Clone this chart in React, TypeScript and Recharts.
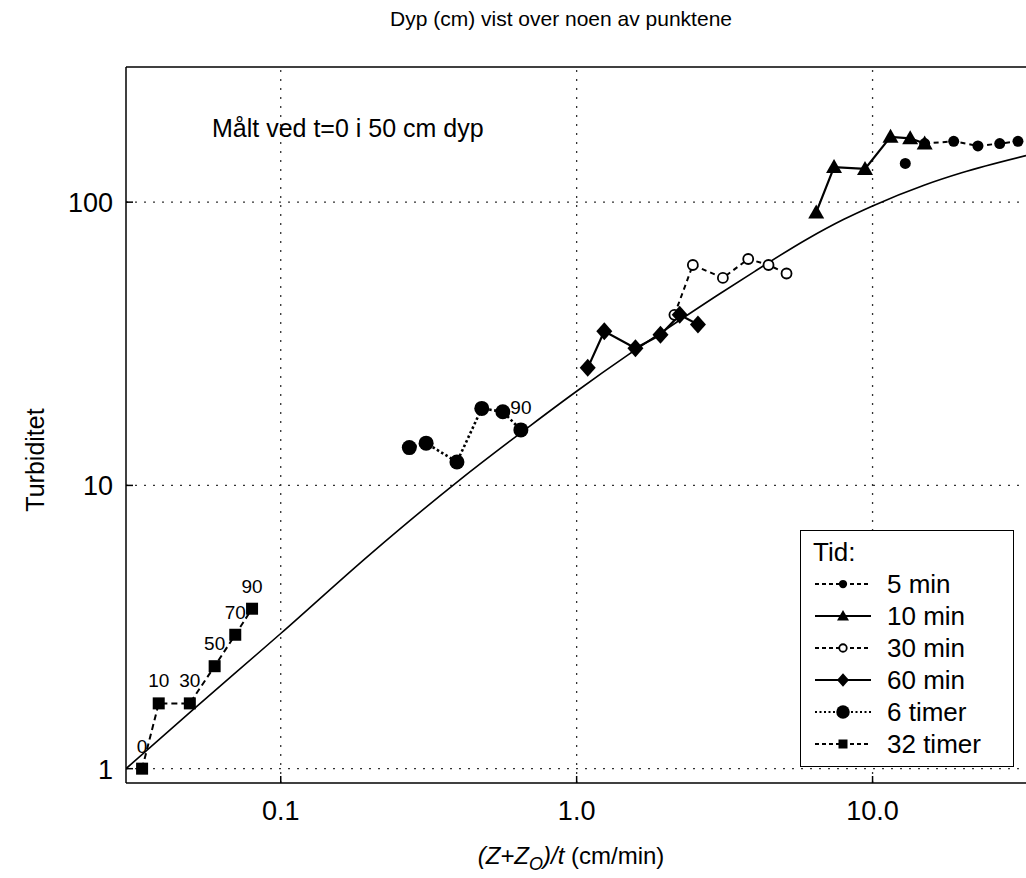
import { ComposedChart, Line, Scatter, XAxis, YAxis, ReferenceLine, Legend } from 'recharts';

const FONT = "'Liberation Sans', Arial, Helvetica, sans-serif";

// fitted curve
const CURVE_X = [0.03, 0.05, 0.1, 0.2, 0.4, 0.7, 1, 1.5, 2, 3, 4, 6, 8, 10, 15, 20, 33];
const CURVE_Y = [1.0, 1.6, 3.0, 5.7, 10.4, 16.3, 21.5, 29, 35.5, 47, 57, 74, 87, 97, 115, 127, 146];

const MIN5_X = [12.9, 15.0, 18.8, 22.7, 26.9, 31.0];
const MIN5_Y = [137, 161, 164, 158, 161, 164];

const MIN10_X = [6.45, 7.41, 9.43, 11.5, 13.4, 15.0];
const MIN10_Y = [92, 133, 131, 170, 168, 161];

const MIN30_X = [2.14, 2.47, 3.12, 3.8, 4.45, 5.12];
const MIN30_Y = [40, 60, 54, 63, 60, 56];

const MIN60_X = [1.09, 1.24, 1.58, 1.92, 2.23, 2.57];
const MIN60_Y = [26, 35, 30.5, 34, 40, 37];

const H6_X = [0.272, 0.31, 0.394, 0.478, 0.563, 0.648];
const H6_Y = [13.6, 14.1, 12.1, 18.7, 18.2, 15.7];
const H6_DEPTH = ['', '', '', '', '', '90'];

const H32_X = [0.034, 0.0387, 0.0493, 0.0598, 0.0702, 0.08];
const H32_Y = [1.0, 1.7, 1.7, 2.3, 2.97, 3.67];
const H32_DEPTH = ['0', '10', '30', '50', '70', '90'];

const X_TICKS = [0.1, 1, 10];
const X_TICK_LABELS = ['0.1', '1.0', '10.0'];
const Y_TICKS = [1, 10, 100];
const Y_TICK_LABELS = ['1', '10', '100'];

const pts = (xs: number[], ys: number[], lbl?: string[]) =>
  xs.map((x, i) => ({ x, y: ys[i], lbl: lbl ? lbl[i] : '' }));

const curveData = pts(CURVE_X, CURVE_Y);

type Kind = 'dot' | 'tri' | 'ring' | 'diamond' | 'bigdot' | 'square';

const Mark = ({ kind, cx, cy, s = 1 }: { kind: Kind; cx: number; cy: number; s?: number }) => {
  switch (kind) {
    case 'dot':
      return <circle cx={cx} cy={cy} r={5.5 * s} fill="#000" />;
    case 'bigdot':
      return <circle cx={cx} cy={cy} r={7.5 * s} fill="#000" />;
    case 'ring':
      return <circle cx={cx} cy={cy} r={5 * s} fill="#fff" stroke="#000" strokeWidth={1.8} />;
    case 'tri':
      return (
        <polygon
          points={`${cx},${cy - 8 * s} ${cx - 8 * s},${cy + 6 * s} ${cx + 8 * s},${cy + 6 * s}`}
          fill="#000"
        />
      );
    case 'diamond':
      return (
        <polygon
          points={`${cx},${cy - 9 * s} ${cx + 8 * s},${cy} ${cx},${cy + 9 * s} ${cx - 8 * s},${cy}`}
          fill="#000"
        />
      );
    case 'square':
      return <rect x={cx - 6 * s} y={cy - 6 * s} width={12 * s} height={12 * s} fill="#000" />;
  }
  return null;
};

const shapeOf = (kind: Kind) => (p: any) => (
  <g>
    <Mark kind={kind} cx={p.cx} cy={p.cy} />
    {p.payload && p.payload.lbl ? (
      <text x={p.cx} y={p.cy - 16} textAnchor="middle" fontSize={19} fontFamily={FONT} fill="#000">
        {p.payload.lbl}
      </text>
    ) : null}
  </g>
);

// the first 5 min point stands alone in the original, so its line skips it
const SERIES: { name: string; kind: Kind; dash?: string; width: number; data: any[]; lineFrom: number }[] = [
  { name: '5 min', kind: 'dot', dash: '5 4', width: 2, data: pts(MIN5_X, MIN5_Y), lineFrom: 1 },
  { name: '10 min', kind: 'tri', width: 2.2, data: pts(MIN10_X, MIN10_Y), lineFrom: 0 },
  { name: '30 min', kind: 'ring', dash: '5 4', width: 2, data: pts(MIN30_X, MIN30_Y), lineFrom: 0 },
  { name: '60 min', kind: 'diamond', width: 2.2, data: pts(MIN60_X, MIN60_Y), lineFrom: 0 },
  { name: '6 timer', kind: 'bigdot', dash: '2.5 2.5', width: 2.6, data: pts(H6_X, H6_Y, H6_DEPTH), lineFrom: 0 },
  { name: '32 timer', kind: 'square', dash: '6 4', width: 2, data: pts(H32_X, H32_Y, H32_DEPTH), lineFrom: 0 },
];

const XTick = (p: any) => {
  const i = X_TICKS.indexOf(p.payload.value);
  return (
    <g>
      <line x1={p.x} x2={p.x} y1={p.y} y2={p.y - 7} stroke="#000" strokeWidth={1.5} />
      <text x={p.x} y={p.y + 37} textAnchor="middle" fontSize={27} fontFamily={FONT} fill="#000">
        {X_TICK_LABELS[i]}
      </text>
    </g>
  );
};

const YTick = (p: any) => {
  const i = Y_TICKS.indexOf(p.payload.value);
  return (
    <g>
      <line x1={p.x} x2={p.x + 7} y1={p.y} y2={p.y} stroke="#000" strokeWidth={1.5} />
      <text x={p.x - 13} y={p.y + 10} textAnchor="end" fontSize={27} fontFamily={FONT} fill="#000">
        {Y_TICK_LABELS[i]}
      </text>
    </g>
  );
};

const LegendBox = () => (
  <div
    style={{
      border: '1.5px solid #000',
      background: '#fff',
      width: 214,
      padding: '5px 0 6px 12px',
      fontFamily: FONT,
      fontSize: 26,
      color: '#000',
      boxSizing: 'border-box',
    }}
  >
    <div style={{ height: 32, lineHeight: '32px' }}>Tid:</div>
    {SERIES.map(s => (
      <div key={s.name} style={{ display: 'flex', alignItems: 'center', height: 32 }}>
        <svg width={60} height={22} style={{ marginRight: 14 }}>
          <line
            x1={2}
            x2={58}
            y1={11}
            y2={11}
            stroke="#000"
            strokeWidth={2}
            strokeDasharray={s.dash ? (s.kind === 'bigdot' ? '2 2.5' : '4 3') : undefined}
          />
          <Mark kind={s.kind} cx={30} cy={11} s={s.kind === 'bigdot' ? 0.9 : 0.75} />
        </svg>
        <span>{s.name}</span>
      </div>
    ))}
  </div>
);

const GRID = { stroke: '#333', strokeDasharray: '2 7', strokeWidth: 1.3 };

export default function App() {
  return (
    <div
      style={{
        position: 'absolute',
        left: 0,
        top: 0,
        width: 1026,
        height: 878,
        background: '#fff',
        fontFamily: FONT,
        color: '#000',
      }}
    >
      <ComposedChart width={1026} height={878} margin={{ top: 67, right: 0, bottom: 0, left: 0 }}>
        <XAxis
          dataKey="x"
          type="number"
          scale="log"
          domain={[0.03, 33]}
          allowDataOverflow
          ticks={X_TICKS}
          tick={<XTick />}
          tickSize={0}
          tickMargin={0}
          height={95}
          axisLine={{ stroke: '#000', strokeWidth: 1.5 }}
          tickLine={false}
        />
        <YAxis
          dataKey="y"
          type="number"
          scale="log"
          domain={[0.89, 300]}
          allowDataOverflow
          ticks={Y_TICKS}
          tick={<YTick />}
          tickSize={0}
          tickMargin={0}
          width={126}
          axisLine={{ stroke: '#000', strokeWidth: 1.5 }}
          tickLine={false}
        />
        {X_TICKS.map(v => (
          <ReferenceLine key={'gx' + v} x={v} {...GRID} />
        ))}
        {Y_TICKS.map(v => (
          <ReferenceLine key={'gy' + v} y={v} {...GRID} />
        ))}
        <ReferenceLine y={300} stroke="#000" strokeWidth={1.5} />
        <Line
          data={curveData}
          dataKey="y"
          type="monotone"
          stroke="#000"
          strokeWidth={1.6}
          dot={false}
          activeDot={false}
          isAnimationActive={false}
        />
        {SERIES.map(s => (
          <Scatter
            key={s.name + '-line'}
            data={s.data.slice(s.lineFrom)}
            dataKey="y"
            line={{ stroke: '#000', strokeWidth: s.width, strokeDasharray: s.dash }}
            lineType="joint"
            shape={() => <g />}
            isAnimationActive={false}
          />
        ))}
        {SERIES.map(s => (
          <Scatter
            key={s.name}
            name={s.name}
            data={s.data}
            dataKey="y"
            shape={shapeOf(s.kind)}
            isAnimationActive={false}
          />
        ))}
        <Legend
          layout="horizontal"
          verticalAlign="middle"
          align="center"
          content={<LegendBox />}
          wrapperStyle={{ position: 'absolute', left: 800, top: 530, width: 214, height: 'auto' }}
        />
      </ComposedChart>

      <div
        style={{ position: 'absolute', left: 361, top: 7, width: 400, textAlign: 'center', fontSize: 21 }}
      >
        Dyp (cm) vist over noen av punktene
      </div>
      <div style={{ position: 'absolute', left: 212, top: 114, fontSize: 25, whiteSpace: 'nowrap' }}>
        Målt ved t=0 i 50 cm dyp
      </div>
      <div
        style={{
          position: 'absolute',
          left: 35,
          top: 460,
          transform: 'translate(-50%, -50%) rotate(-90deg)',
          fontSize: 25,
          whiteSpace: 'nowrap',
        }}
      >
        Turbiditet
      </div>
      <div
        style={{
          position: 'absolute',
          left: 571,
          top: 858,
          transform: 'translate(-50%, -50%)',
          fontSize: 24,
          whiteSpace: 'nowrap',
        }}
      >
        <i>(Z+Z</i>
        <i style={{ fontSize: 18, verticalAlign: '-6px' }}>O</i>
        <i>)/t</i> (cm/min)
      </div>
    </div>
  );
}
